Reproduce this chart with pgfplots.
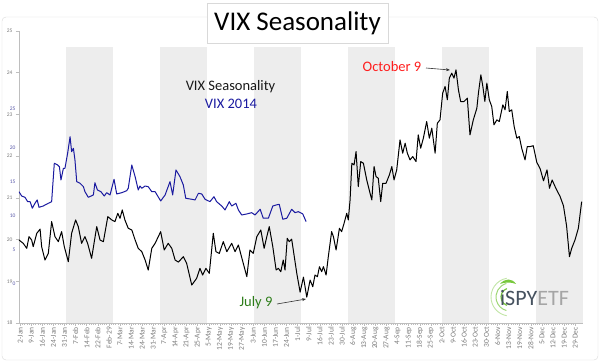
\documentclass[border=0pt]{standalone}
\usepackage{fontspec}
\setmainfont{Carlito}
\usepackage{pgfplots}
\usepackage{pgfplotstable}
\pgfplotsset{compat=1.18}
\usetikzlibrary{arrows.meta}
\definecolor{bandgray}{RGB}{237,237,237}
\definecolor{framegray}{RGB}{217,217,217}
\definecolor{axisgray}{RGB}{190,190,190}
\definecolor{ticklab}{RGB}{125,125,125}
\definecolor{bluelab}{RGB}{90,90,170}
\definecolor{vixblue}{RGB}{26,26,160}
\definecolor{annred}{RGB}{255,30,30}
\definecolor{anngreen}{RGB}{45,125,25}
\definecolor{logodark}{RGB}{70,82,95}
\definecolor{logolight}{RGB}{165,165,165}
\definecolor{logogreen}{RGB}{120,200,60}

\pgfplotstableread{
t v
0 19.99
1.9 19.91
3.5 19.79
4.5 20.07
5.7 19.99
6.4 19.83
8.0 20.15
9.5 20.25
10.2 19.83
11.7 19.51
13.2 19.67
14.7 20.43
16.2 20.07
17.7 19.95
19.2 20.19
20.4 19.83
22.2 19.47
23.7 20.15
25.5 20.47
26.7 20.31
28.2 19.91
29.7 20.07
30.9 19.91
32.7 19.55
35.0 20.31
36.5 19.99
38.0 19.95
40.0 20.55
41.8 20.47
43.2 20.43
44.5 20.63
45.5 20.51
46.5 20.71
47.7 20.47
49.2 20.27
50.8 20.23
52.3 19.99
53.7 19.79
55.3 19.71
56.8 19.51
58.2 19.27
59.8 19.79
61.3 19.91
63.8 20.19
65.4 19.75
67.2 19.91
68.8 19.79
70.3 19.51
71.8 19.46
74.0 19.59
75.5 19.43
77.8 18.91
80.0 19.07
81.5 19.31
82.7 19.15
84.2 19.31
85.7 19.19
87.5 20.15
88.7 19.71
90.2 19.67
92.0 19.95
93.6 19.71
95.8 19.91
97.3 19.71
98.8 19.87
101.0 19.43
102.6 19.11
104.0 19.75
105.5 19.67
107.1 20.07
108.9 20.23
110.4 19.79
111.6 20.07
112.7 20.31
114.3 19.83
115.8 19.27
116.8 19.31
117.9 19.23
119.0 19.51
119.8 19.27
120.8 20.03
121.7 19.95
122.8 20.01
125.1 19.19
126.6 18.74
128.1 19.10
129.6 18.62
131.1 19.03
132.3 18.87
133.3 19.15
134.4 19.11
135.3 19.35
136.3 19.23
137.1 19.35
138.3 19.15
139.3 19.59
140.8 20.19
141.6 20.07
142.8 19.75
144.3 20.27
145.3 20.19
146.4 20.39
147.6 20.63
148.3 20.47
149.1 20.95
149.9 21.83
150.9 21.79
151.8 22.11
152.8 21.27
153.9 21.87
155.1 21.83
156.6 21.43
158.1 21.11
158.9 20.95
159.9 21.75
160.8 21.51
161.8 21.47
162.9 20.91
163.8 21.35
165.3 21.35
166.8 21.55
167.9 21.75
168.9 21.43
170.1 21.67
171.6 22.39
172.8 22.07
173.9 22.31
174.9 22.07
176.1 21.91
177.3 21.99
178.8 21.87
179.8 22.51
180.9 22.19
182.1 22.43
183.6 22.83
184.8 22.43
185.9 22.67
187.4 22.07
188.4 22.79
189.6 22.87
190.8 23.51
191.9 23.67
192.9 23.35
193.8 23.87
194.9 23.99
195.9 23.87
196.8 24.07
197.9 23.59
198.9 23.31
200.4 23.31
201.9 23.39
203.1 22.51
204.6 22.87
206.2 23.15
206.9 23.51
208.0 23.95
208.9 23.67
209.8 23.31
210.7 23.75
211.8 23.35
212.9 23.19
213.9 22.75
215.2 22.87
216.3 22.83
217.9 23.23
218.9 23.11
219.9 23.55
220.8 23.07
221.9 23.11
223.0 22.71
224.2 22.43
225.3 22.47
226.4 22.19
227.9 21.91
228.9 22.23
230.2 22.23
231.6 22.25
233.2 21.85
234.7 21.70
236.2 21.41
237.8 21.67
238.9 21.23
240.1 21.43
241.6 21.25
243.7 21.03
245.2 20.81
246.6 20.33
247.9 19.59
248.9 19.79
250.4 19.99
251.9 20.27
253.4 20.91
}\seasonality

\pgfplotstableread{
t v
0 13.57
1.2 12.94
2.7 12.75
3.9 12.11
5.0 12.11
6.0 11.14
7.2 11.87
8.2 12.36
9.0 11.28
10.9 11.47
13.2 11.87
14.7 12.11
15.9 17.75
17.4 17.50
18.2 17.25
18.9 15.30
20.0 17.02
20.7 17.02
21.9 19.22
23.0 21.66
23.7 19.46
24.5 19.96
25.2 18.24
26.0 15.05
27.5 14.81
29.0 14.31
29.7 13.58
31.2 12.75
33.5 13.09
34.2 14.90
35.3 13.83
36.9 13.57
38.4 12.94
39.5 13.43
41.0 13.09
42.8 15.40
44.0 13.24
46.3 13.43
48.5 13.72
49.2 14.08
50.8 17.50
52.3 15.78
53.7 13.83
54.5 14.41
55.3 14.08
56.8 14.41
58.2 14.31
59.8 13.57
61.3 13.57
63.8 12.21
65.8 13.09
68.0 15.05
69.2 13.09
70.7 16.77
72.5 15.78
74.0 14.56
75.1 12.61
77.8 12.46
79.3 12.36
80.8 13.34
82.3 13.24
83.8 12.46
86.0 12.11
87.8 12.84
89.0 12.11
91.3 11.47
92.8 10.89
94.7 12.11
95.8 11.47
97.7 11.87
98.8 10.89
100.3 10.15
102.6 10.30
104.8 10.49
106.3 10.15
108.6 10.99
110.0 9.67
112.3 9.67
114.3 11.47
115.8 11.62
117.2 11.72
118.8 9.52
120.6 9.67
122.8 10.99
124.3 10.49
125.8 10.64
127.8 10.30
129.3 9.17
}\vixfourteen

\begin{document}
\begin{tikzpicture}[x=1pt,y=1pt]
\useasboundingbox (0,0) rectangle (600,364);
\draw[framegray, fill=white, rounded corners=4pt] (2,4) rectangle (598,347);

\begin{axis}[
  at={(19pt,41pt)}, anchor=south west,
  scale only axis, width=564pt, height=292pt,
  xmin=0, xmax=254, ymin=18, ymax=25,
  axis x line*=bottom, axis y line*=left,
  axis line style={draw=axisgray, line width=0.8pt},
  tick style={draw=axisgray, line width=0.5pt},
  tick align=outside,
  major tick length=3pt, minor tick length=2pt,
  xtick={0.5,5.5,...,250.5},
  minor x tick num=4,
  xticklabels={2-Jan,9-Jan,16-Jan,24-Jan,31-Jan,7-Feb,14-Feb,22-Feb,Feb-29,7-Mar,14-Mar,24-Mar,31-Mar,7-Apr,14-Apr,21-Apr,25-Apr,5-May,12-May,19-May,27-May,3-Jun,10-Jun,17-Jun,24-Jun,1-Jul,9-Jul,16-Jul,23-Jul,30-Jul,6-Aug,13-Aug,20-Aug,27-Aug,4-Sep,11-Sep,18-Sep,25-Sep,2-Oct,9-Oct,16-Oct,23-Oct,30-Oct,6-Nov,13-Nov,19-Nov,28-Nov,5-Dec,12-Dec,19-Dec,29-Dec},
  xticklabel style={rotate=90, anchor=east, font=\fontsize{7.5}{8}\selectfont, color=ticklab, inner sep=1pt},
  ytick={18,19,...,25},
  yticklabel style={font=\fontsize{5.5}{6}\selectfont, color=ticklab},
  /pgf/number format/assume math mode=true,
  clip=false,
]
\fill[bandgray] (axis cs:21.17,18) rectangle (axis cs:42.33,24.62);
\fill[bandgray] (axis cs:63.5,18) rectangle (axis cs:84.67,24.62);
\fill[bandgray] (axis cs:105.83,18) rectangle (axis cs:127,24.62);
\fill[bandgray] (axis cs:148.17,18) rectangle (axis cs:169.33,24.62);
\fill[bandgray] (axis cs:190.5,18) rectangle (axis cs:211.67,24.62);
\fill[bandgray] (axis cs:232.83,18) rectangle (axis cs:254,24.62);
\addplot[black, line width=1pt, line join=round] table[x=t, y=v] {\seasonality};
\end{axis}

\begin{axis}[
  at={(19pt,41pt)}, anchor=south west,
  scale only axis, width=564pt, height=292pt,
  xmin=0, xmax=254, ymin=-5.735, ymax=37.206,
  axis x line=none, axis y line*=left,
  axis line style={draw=none},
  tick style={draw=none},
  major tick length=3pt,
  ytick={0,5,...,25},
  yticklabels={0,5,10,15,20,\raisebox{3pt}[0pt][0pt]{25}},
  yticklabel style={font=\fontsize{5.5}{6}\selectfont, color=bluelab},
  /pgf/number format/assume math mode=true,
]
\addplot[vixblue, line width=1pt, line join=round] table[x=t, y=v] {\vixfourteen};
\end{axis}

% title
\draw[framegray, fill=white] (207,321) rectangle (388,361);
\node[font=\fontsize{27}{30}\selectfont, text=black] at (297.5,341) {VIX Seasonality};

% legend text
\node[font=\fontsize{14.5}{16}\selectfont, text=black!90] at (230.5,277) {VIX Seasonality};
\node[font=\fontsize{14.5}{16}\selectfont, text=vixblue] at (231,260) {VIX 2014};

% annotations
\node[font=\fontsize{14.5}{16}\selectfont, text=annred] at (392,297) {October 9};
\draw[-{Stealth[length=4pt,width=3pt]}, black!80, line width=0.6pt] (426,296) -- (450,294);
\node[font=\fontsize{14.5}{16}\selectfont, text=anngreen] at (256,61) {July 9};
\draw[-{Stealth[length=4pt,width=3pt]}, black!80, line width=0.6pt] (277,60) -- (306,65);

% logo
\draw[logogreen, line width=1.2pt] (510,67) ++(110:9) arc (110:250:9);
\draw[logogreen!70, line width=1pt] (510,67) ++(105:14) arc (105:255:14);
\draw[logogreen!45, line width=0.9pt] (510,67) ++(100:19) arc (100:260:19);
\fill[logogreen] (500,80) .. controls (505,86) and (512,86) .. (516,80) .. controls (511,82) and (505,82) .. (500,80) -- cycle;
\node[anchor=west, font=\fontsize{22}{23}\selectfont, inner sep=0pt] at (500,66) {\textcolor{logodark}{iSPY}\textcolor{logolight}{ETF}};
\end{tikzpicture}
\end{document}
